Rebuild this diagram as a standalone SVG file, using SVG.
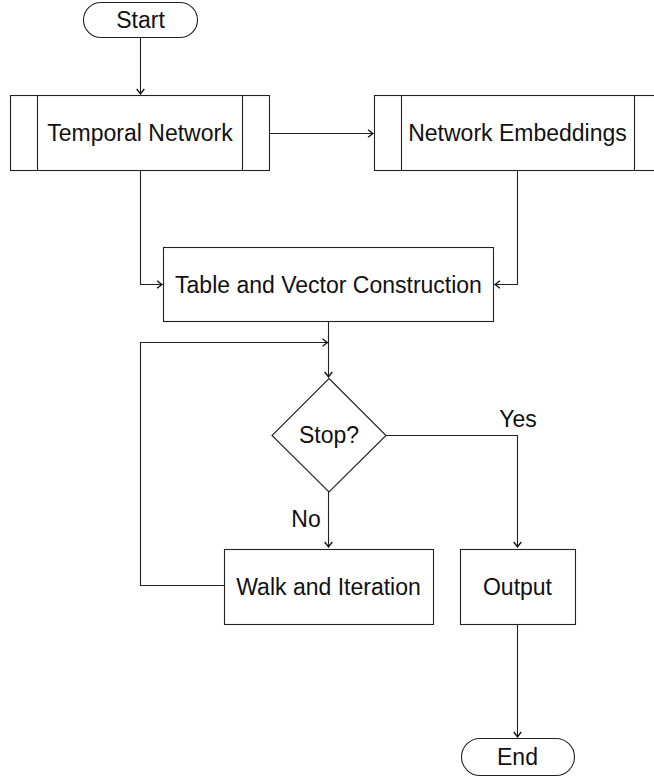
<svg xmlns="http://www.w3.org/2000/svg" width="654" height="778" viewBox="0 0 654 778">
<style>
.s{fill:#fff;stroke:#222;stroke-width:1.1}
.l{fill:none;stroke:#222;stroke-width:1.1}
text{font-family:"Liberation Sans",Arial,sans-serif;font-size:23px;fill:#111;text-anchor:middle}
</style>
<defs>
<marker id="a" viewBox="-6 -5 8 10" markerWidth="8" markerHeight="10" refX="0" refY="0" orient="auto" markerUnits="userSpaceOnUse">
<path d="M-5,-3.8 Q-1.5,-1 0,0 Q-1.5,1 -5,3.8" fill="none" stroke="#111" stroke-width="1.3"/>
</marker>
</defs>
<g id="connectors">
<path class="l" d="M140.5,38 V94" marker-end="url(#a)"/>
<path class="l" d="M270,133.5 H373" marker-end="url(#a)"/>
<path class="l" d="M140.5,171 V284.5 H162" marker-end="url(#a)"/>
<path class="l" d="M517.5,171 V284.5 H495" marker-end="url(#a)"/>
<path class="l" d="M328.5,322 V377"  marker-end="url(#a)"/>
<path class="l" d="M224,585.5 H140.5 V342.5 H327.5" marker-end="url(#a)"/>
<path class="l" d="M386,435.5 H517.5 V547" marker-end="url(#a)"/>
<path class="l" d="M328.5,492 V547" marker-end="url(#a)"/>
<path class="l" d="M517.5,625 V737" marker-end="url(#a)"/>
<text x="518" y="427">Yes</text>
<text x="306" y="527">No</text>
</g>
<g id="start">
<rect class="s" x="83.5" y="2.5" width="114" height="35" rx="17.5"/>
<text x="140.5" y="28">Start</text>
</g>
<g id="temporal">
<rect class="s" x="10.5" y="95.5" width="259" height="75"/>
<path class="l" d="M37.5,95.5 V170.5 M242.5,95.5 V170.5"/>
<text x="140" y="141">Temporal Network</text>
</g>
<g id="embeddings">
<rect class="s" x="374.5" y="95.5" width="287" height="75"/>
<path class="l" d="M401.5,95.5 V170.5 M634.5,95.5 V170.5"/>
<text x="517.5" y="141">Network Embeddings</text>
</g>
<g id="table">
<rect class="s" x="163.5" y="247.5" width="330" height="74"/>
<text x="328.5" y="292.5">Table and Vector Construction</text>
</g>
<g id="stop">
<polygon class="s" points="329,378.5 386,435.5 329,492 272,435.5"/>
<text x="329" y="443">Stop?</text>
</g>
<g id="walk">
<rect class="s" x="224.5" y="549.5" width="209" height="75"/>
<text x="328.5" y="595">Walk and Iteration</text>
</g>
<g id="output">
<rect class="s" x="460.5" y="549.5" width="115" height="75"/>
<text x="517.5" y="595">Output</text>
</g>
<g id="end">
<rect class="s" x="461.5" y="738.5" width="113" height="37" rx="18.5"/>
<text x="517.5" y="765">End</text>
</g>
</svg>
